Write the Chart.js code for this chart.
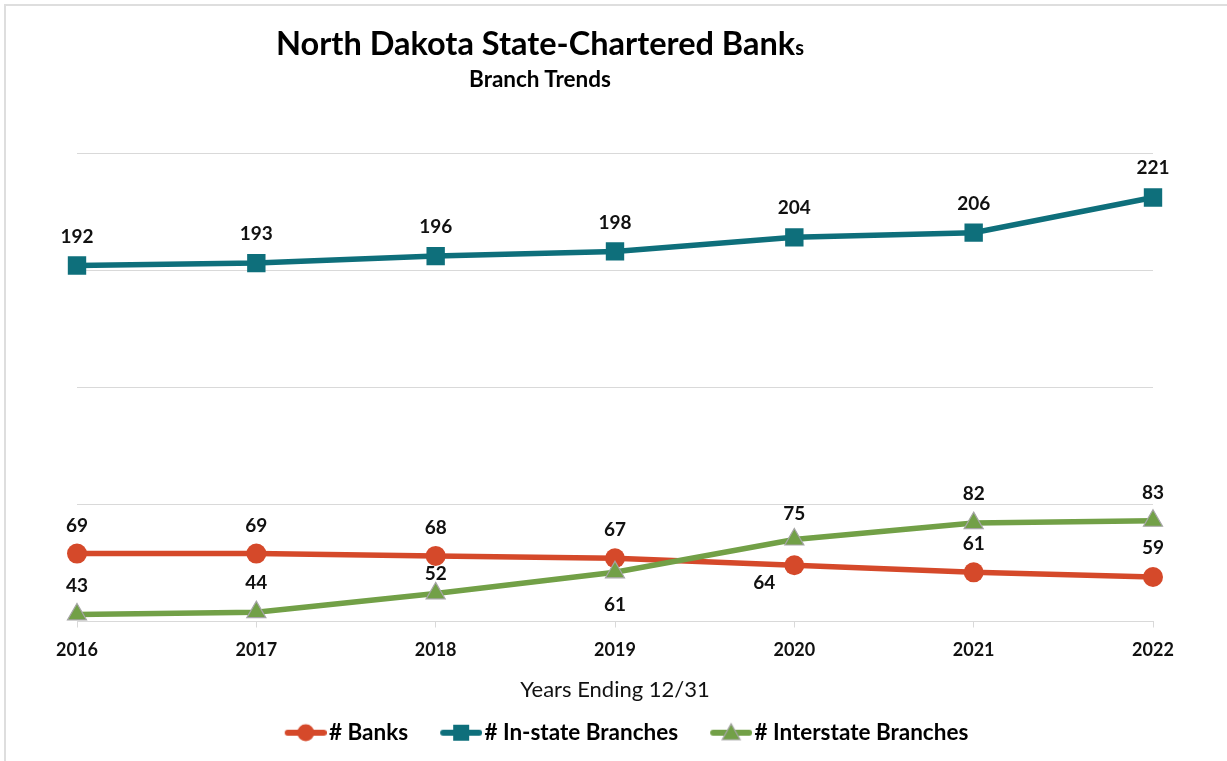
<!DOCTYPE html>
<html>
<head>
<meta charset="utf-8">
<script src="https://cdn.jsdelivr.net/npm/chart.js@4"></script>
<style>
  body { margin: 0; background: #fff; }
  #wrap { position: relative; width: 1227px; height: 761px; overflow: hidden; font-family: Lato, "Open Sans", sans-serif; }
  #frame { position: absolute; left: 4px; top: 4px; right: -10px; bottom: -10px; border-top: 2px solid #dedede; border-left: 2px solid #dedede; }
  #title { position: absolute; left: 0; width: 1080px; top: 23px; text-align: center; font-weight: bold; font-size: 32.5px; color: #000; }
  #title small { font-size: 20px; }
  #subtitle { position: absolute; left: 0; width: 1080px; top: 65px; text-align: center; font-weight: bold; font-size: 22.5px; color: #000; }
  canvas { position: absolute; left: 0; top: 0; }
</style>
</head>
<body>
<div id="wrap">
  <div id="frame"></div>
  <canvas id="myChart" width="1227" height="761"></canvas>
  <div id="title">North Dakota State-Chartered Bank<small>s</small></div>
  <div id="subtitle">Branch Trends</div>
</div>
<script>
// D O N N E E S - - - - - - - - - - - - - - - - - - - - - - - - - - -
let years = ["2016", "2017", "2018", "2019", "2020", "2021", "2022"];
let banks = [69, 69, 68, 67, 64, 61, 59];
let inStateBranches = [192, 193, 196, 198, 204, 206, 221];
let interstateBranches = [43, 44, 52, 61, 75, 82, 83];

// placement of the value labels (offset from the point, px)
let banksLabelDx = [0, 0, 0, 0, -30, 0, 0];
let banksLabelDy = [-28, -28, -28, -28, 18, -28, -29];
let inStateLabelDx = [0, 0, 0, 0, 0, 0, 0];
let inStateLabelDy = [-29, -29, -29, -29, -29, -29, -30];
let interLabelDx = [0, 0, 0, 0, 0, 0, 0];
let interLabelDy = [-29, -29, -20, 33, -26, -29, -28];

let red = "#d5492a";
let teal = "#0e6f7b";
let green = "#72a047";
let font = "Lato, 'Open Sans', sans-serif";

// petites images pour la legende (ligne + marqueur), dessin cale a droite
function legendIcon(color, shape) {
  let c = document.createElement("canvas");
  c.width = 74; c.height = 22;
  let ctx = c.getContext("2d");
  let x0 = 32, cx = 53;
  ctx.strokeStyle = color;
  ctx.lineWidth = 6;
  ctx.lineCap = "round";
  ctx.beginPath(); ctx.moveTo(x0 + 3, 11); ctx.lineTo(x0 + 39, 11); ctx.stroke();
  ctx.fillStyle = color;
  ctx.beginPath();
  if (shape == "circle") {
    ctx.arc(cx, 11, 8.5, 0, Math.PI * 2);
    ctx.fill();
  } else if (shape == "rect") {
    ctx.fillRect(cx - 8, 3, 16, 16);
  } else {
    ctx.moveTo(cx, 2); ctx.lineTo(cx + 9, 18); ctx.lineTo(cx - 9, 18); ctx.closePath();
    ctx.fill();
    ctx.strokeStyle = "#a5a5a5"; ctx.lineWidth = 1.2; ctx.stroke();
  }
  return c;
}
let icons = [legendIcon(red, "circle"), legendIcon(teal, "rect"), legendIcon(green, "triangle")];

// etiquettes de valeurs
let valueLabels = {
  id: "valueLabels",
  afterDatasetsDraw(chart) {
    let ctx = chart.ctx;
    ctx.save();
    ctx.font = "bold 19px " + font;
    ctx.fillStyle = "#111";
    ctx.textAlign = "center";
    ctx.textBaseline = "middle";
    chart.data.datasets.forEach(function (ds, i) {
      let meta = chart.getDatasetMeta(i);
      meta.data.forEach(function (pt, j) {
        ctx.fillText(ds.data[j], pt.x + ds.labelDx[j], pt.y + ds.labelDy[j]);
      });
    });
    ctx.restore();
  }
};

new Chart(document.getElementById("myChart"), {
  type: "line",
  data: {
    labels: years,
    datasets: [
      {
        label: "# Banks", data: banks, order: 2,
        borderColor: red, backgroundColor: red, borderWidth: 5.5,
        pointStyle: "circle", pointRadius: 10, pointBorderWidth: 0,
        labelDx: banksLabelDx, labelDy: banksLabelDy
      },
      {
        label: "# In-state Branches", data: inStateBranches, order: 3,
        borderColor: teal, backgroundColor: teal, borderWidth: 5.5,
        pointStyle: "rect", pointRadius: 13, pointBorderWidth: 0,
        labelDx: inStateLabelDx, labelDy: inStateLabelDy
      },
      {
        label: "# Interstate Branches", data: interstateBranches, order: 1,
        borderColor: green, backgroundColor: green, borderWidth: 5.5,
        pointStyle: "triangle", pointRadius: 11, pointBorderWidth: 1.2, pointBorderColor: "#a5a5a5",
        labelDx: interLabelDx, labelDy: interLabelDy
      }
    ]
  },
  options: {
    responsive: false,
    animation: false,
    devicePixelRatio: 1,
    layout: { padding: { left: 77, right: 74, top: 153, bottom: 7 } },
    scales: {
      x: {
        offset: false,
        border: { color: "#d9d9d9", width: 1 },
        grid: { drawOnChartArea: false, drawTicks: true, tickLength: 6, color: "#d9d9d9" },
        ticks: { color: "#111", padding: 12, font: { family: font, size: 18, weight: "bold" } },
        title: { display: true, text: "Years Ending 12/31", color: "#111", padding: { top: 4, bottom: 9 }, font: { family: font, size: 22 } }
      },
      y: {
        min: 40, max: 240,
        ticks: { display: false, stepSize: 50 },
        border: { display: false },
        grid: { color: "#d9d9d9", lineWidth: 1, drawTicks: false, tickLength: 0 }
      }
    },
    plugins: {
      tooltip: { enabled: false },
      legend: {
        position: "bottom",
        labels: {
          usePointStyle: true,
          pointStyleWidth: 56,
          boxHeight: 20,
          padding: 9,
          color: "#111",
          font: { family: font, size: 22.5, weight: "bold" },
          generateLabels: function (chart) {
            return chart.data.datasets.map(function (ds, i) {
              return { text: ds.label, datasetIndex: i, pointStyle: icons[i], fillStyle: ds.borderColor, strokeStyle: ds.borderColor, lineWidth: 0, hidden: false };
            });
          }
        }
      }
    }
  },
  plugins: [valueLabels]
});
</script>
</body>
</html>
